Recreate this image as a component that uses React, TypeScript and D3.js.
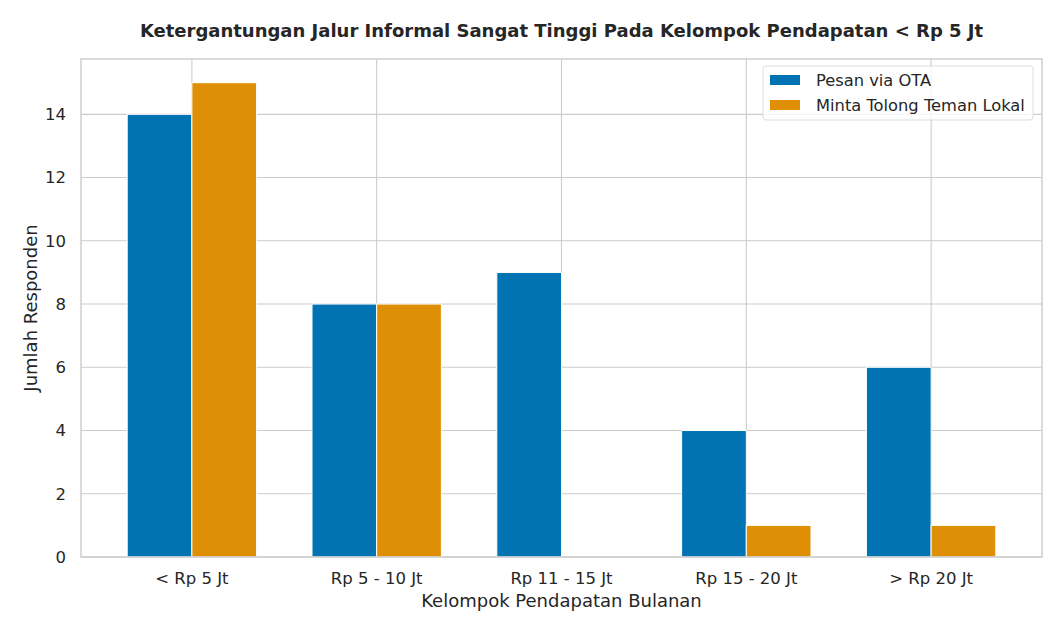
import React, { useEffect, useRef } from 'react';
import * as d3 from 'd3';

const categories = ['< Rp 5 Jt', 'Rp 5 - 10 Jt', 'Rp 11 - 15 Jt', 'Rp 15 - 20 Jt', '> Rp 20 Jt'];
const otaValues = [14, 8, 9, 4, 6];
const temanValues = [15, 8, 0, 1, 1];
const seriesNames = ['Pesan via OTA', 'Minta Tolong Teman Lokal'];
const seriesColors = ['#0173b2', '#de8f05'];
const yTicks = [0, 2, 4, 6, 8, 10, 12, 14];

const W = 1057;
const H = 638;

export default function App() {
  const ref = useRef<SVGSVGElement>(null);

  useEffect(() => {
    if (!ref.current) return;
    const svg = d3.select(ref.current);
    svg.selectAll('*').remove();

    const margin = { top: 59, right: 15, bottom: 81, left: 81 };
    const innerWidth = W - margin.left - margin.right;
    const innerHeight = H - margin.top - margin.bottom;
    const barW = 0.35;
    const font = 'DejaVu Sans, sans-serif';
    const textColor = '#262626';

    const x = d3.scaleLinear().domain([-0.6, categories.length - 1 + 0.6]).range([0, innerWidth]);
    const yMax = d3.max([...otaValues, ...temanValues]) || 0;
    const y = d3.scaleLinear().domain([0, yMax * 1.05]).range([innerHeight, 0]);

    const g = svg.append('g').attr('transform', `translate(${margin.left},${margin.top})`);

    // grid
    g.selectAll('line.ygrid')
      .data(yTicks)
      .enter()
      .append('line')
      .attr('x1', 0)
      .attr('x2', innerWidth)
      .attr('y1', d => y(d))
      .attr('y2', d => y(d))
      .attr('stroke', '#cccccc')
      .attr('stroke-width', 1.1);

    g.selectAll('line.xgrid')
      .data(categories.map((_, i) => i))
      .enter()
      .append('line')
      .attr('x1', d => x(d))
      .attr('x2', d => x(d))
      .attr('y1', 0)
      .attr('y2', innerHeight)
      .attr('stroke', '#cccccc')
      .attr('stroke-width', 1.1);

    // bars
    const series = [otaValues, temanValues];
    series.forEach((vals, s) => {
      g.selectAll(`rect.s${s}`)
        .data(vals)
        .enter()
        .append('rect')
        .attr('x', (d, i) => x(i + (s === 0 ? -barW : 0)))
        .attr('y', d => y(d))
        .attr('width', x(barW) - x(0))
        .attr('height', d => y(0) - y(d))
        .attr('fill', seriesColors[s])
        .attr('stroke', d => (d > 0 ? '#ffffff' : 'none'))
        .attr('stroke-width', 1);
    });

    // spines
    g.append('rect')
      .attr('x', 0)
      .attr('y', 0)
      .attr('width', innerWidth)
      .attr('height', innerHeight)
      .attr('fill', 'none')
      .attr('stroke', '#cccccc')
      .attr('stroke-width', 1.4);

    // y tick labels
    g.selectAll('text.ytick')
      .data(yTicks)
      .enter()
      .append('text')
      .attr('x', -15)
      .attr('y', d => y(d))
      .attr('dy', '0.35em')
      .attr('text-anchor', 'end')
      .attr('font-family', font)
      .attr('font-size', 16.5)
      .attr('fill', textColor)
      .text(d => d);

    // x tick labels
    g.selectAll('text.xtick')
      .data(categories)
      .enter()
      .append('text')
      .attr('x', (d, i) => x(i))
      .attr('y', innerHeight + 27)
      .attr('text-anchor', 'middle')
      .attr('font-family', font)
      .attr('font-size', 16.5)
      .attr('fill', textColor)
      .text(d => d);

    // axis labels
    g.append('text')
      .attr('x', innerWidth / 2)
      .attr('y', innerHeight + 50)
      .attr('text-anchor', 'middle')
      .attr('font-family', font)
      .attr('font-size', 18)
      .attr('fill', textColor)
      .text('Kelompok Pendapatan Bulanan');

    g.append('text')
      .attr('transform', `translate(${-44},${innerHeight / 2}) rotate(-90)`)
      .attr('text-anchor', 'middle')
      .attr('font-family', font)
      .attr('font-size', 18)
      .attr('fill', textColor)
      .text('Jumlah Responden');

    // title
    svg.append('text')
      .attr('x', margin.left + innerWidth / 2)
      .attr('y', 37)
      .attr('text-anchor', 'middle')
      .attr('font-family', font)
      .attr('font-size', 18)
      .attr('font-weight', 'bold')
      .attr('fill', textColor)
      .text('Ketergantungan Jalur Informal Sangat Tinggi Pada Kelompok Pendapatan < Rp 5 Jt');

    // legend
    const legend = g.append('g').attr('transform', `translate(${innerWidth - 279},7)`);
    legend.append('rect')
      .attr('width', 270)
      .attr('height', 54)
      .attr('rx', 3)
      .attr('fill', 'rgba(255,255,255,0.8)')
      .attr('stroke', '#dddddd')
      .attr('stroke-width', 1);
    seriesNames.forEach((name, i) => {
      legend.append('rect')
        .attr('x', 7)
        .attr('y', 9 + i * 25)
        .attr('width', 30)
        .attr('height', 10)
        .attr('fill', seriesColors[i]);
      legend.append('text')
        .attr('x', 53)
        .attr('y', 14 + i * 25)
        .attr('dy', '0.35em')
        .attr('font-family', font)
        .attr('font-size', 16.3)
        .attr('fill', textColor)
        .text(name);
    });
  }, []);

  return <svg ref={ref} width={W} height={H} style={{ display: 'block', margin: '-8px', background: '#fff' }} />;
}
